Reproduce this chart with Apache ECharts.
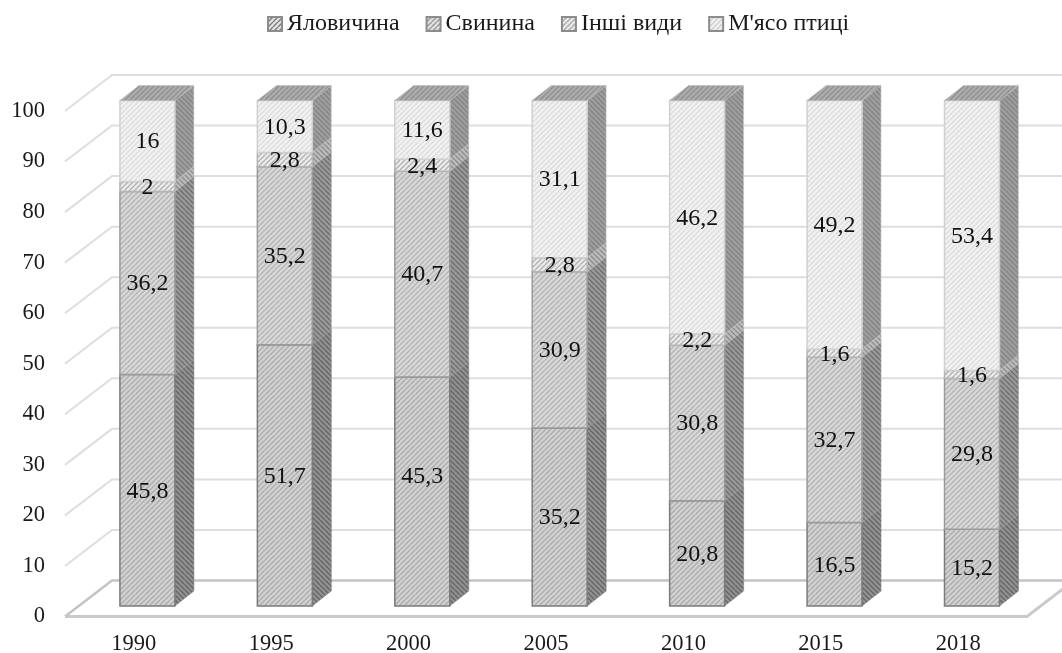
<!DOCTYPE html>
<html><head><meta charset="utf-8">
<style>html,body{margin:0;padding:0;background:#fff}#c{width:1062px;height:653px}</style>
<script src="https://cdn.jsdelivr.net/npm/echarts@6/dist/echarts.min.js"></script>
</head><body><div id="c"></div>
<script>
const categories = ['1990','1995','2000','2005','2010','2015','2018'];
const beef    = [45.8, 51.7, 45.3, 35.2, 20.8, 16.5, 15.2];
const pork    = [36.2, 35.2, 40.7, 30.9, 30.8, 32.7, 29.8];
const other   = [2, 2.8, 2.4, 2.8, 2.2, 1.6, 1.6];
const poultry = [16, 10.3, 11.6, 31.1, 46.2, 49.2, 53.4];
const seriesNames = ['Яловичина','Свинина','Інші види',"М'ясо птиці"];
const gridTicks = [0,10,20,30,40,50,60,70,80,90,100];

const FONT = '"Liberation Serif","Times New Roman",serif';
const WALL = [47,-36], BAR_FRONT = [13.7,-10.5], BAR_DEPTH = [19,-15];

function hatch(bg, fg, dir){
  const s = 5, c = document.createElement('canvas');
  c.width = c.height = s;
  const g = c.getContext('2d');
  g.fillStyle = bg; g.fillRect(0,0,s,s);
  g.strokeStyle = fg; g.lineWidth = 1.4;
  g.beginPath();
  for (let k=-s;k<=2*s;k+=s){
    if (dir>0){ g.moveTo(k,s); g.lineTo(k+s,0); } else { g.moveTo(k,0); g.lineTo(k+s,s); }
  }
  g.stroke();
  return {image:c, repeat:'repeat'};
}
const looks = [
  {front:hatch('#d2d2d2','#acacac',1), side:hatch('#929292','#646464',-1), top:hatch('#a8a8a8','#888888',1), line:'#7b7b7b', icon:hatch('#e4e4e4','#7a7a7a',1)},
  {front:hatch('#d8d8d8','#b4b4b4',1), side:hatch('#9a9a9a','#6e6e6e',-1), top:hatch('#b0b0b0','#909090',1), line:'#9a9a9a', icon:hatch('#e8e8e8','#8e8e8e',1)},
  {front:hatch('#ececec','#b0b0b0',1), side:hatch('#bcbcbc','#8c8c8c',-1), top:hatch('#c4c4c4','#a8a8a8',1), line:'#b4b4b4', icon:hatch('#ececec','#a8a8a8',1)},
  {front:hatch('#f2f2f2','#dcdcdc',1), side:hatch('#9e9e9e','#848484',-1), top:hatch('#adadad','#8f8f8f',1), line:'#d0d0d0', icon:hatch('#f2f2f2','#cccccc',1)}
];
const values = [beef,pork,other,poultry];
const labelShift = {'0-2':-16};

function fmt(v){ return String(v).replace('.',','); }
function stackBase(si,i){ let lo=0; for(let k=0;k<si;k++) lo+=values[k][i]; return lo; }

function wallItem(params, api){
  const v = api.value(0);
  const p = api.coord([0,v]);
  const x0 = params.coordSys.x, x1 = x0 + params.coordSys.width;
  const bx = x0 + WALL[0], by = p[1] + WALL[1];
  if (v === 0){
    return {type:'group', children:[
      {type:'polyline', shape:{points:[[x0,p[1]],[bx,by],[1062,by]]}, style:{stroke:'#c4c4c4',lineWidth:2.5,fill:null}},
      {type:'polyline', shape:{points:[[x0,p[1]],[x1,p[1]],[x1+WALL[0],by]]}, style:{stroke:'#cacaca',lineWidth:3,fill:null}}
    ]};
  }
  return {type:'polyline', shape:{points:[[x0,p[1]],[bx,by],[1062,by]]}, style:{stroke:'#dedede',lineWidth:2,fill:null}};
}

function barItem(si){
  return function(params, api){
    const i = api.value(0), lo = api.value(1), hi = api.value(2);
    const a = api.coord([i,lo]), b = api.coord([i,hi]);
    const w = api.size([1,0])[0]*0.4;
    const xL = a[0]+BAR_FRONT[0]-w/2, xR = xL+w;
    const yB = a[1]+BAR_FRONT[1], yT = b[1]+BAR_FRONT[1];
    const dx = BAR_DEPTH[0], dy = BAR_DEPTH[1];
    const L = looks[si];
    const kids = [
      {type:'polygon', shape:{points:[[xR,yB],[xR+dx,yB+dy],[xR+dx,yT+dy],[xR,yT]]}, style:{fill:L.side,stroke:L.line,lineWidth:.5}},
      {type:'rect', shape:{x:xL,y:yT,width:w,height:yB-yT}, style:{fill:L.front,stroke:L.line,lineWidth:1.5}}
    ];
    if (si===3) kids.push({type:'polygon', shape:{points:[[xL,yT],[xL+dx,yT+dy],[xR+dx,yT+dy],[xR,yT]]}, style:{fill:L.top,stroke:'#b8b8b8',lineWidth:.5}});
    return {type:'group', children:kids};
  };
}

function labelItem(params, api){
  const i = api.value(0), si = api.value(1), mid = api.value(2);
  const p = api.coord([i,mid]);
  return {type:'text', style:{
    text:fmt(values[si][i]),
    x:p[0]+BAR_FRONT[0], y:p[1]+BAR_FRONT[1]+1+(labelShift[si+'-'+i]||0),
    align:'center', verticalAlign:'middle', font:'24px '+FONT, fill:'#111'
  }};
}

const series = [{
  type:'custom', coordinateSystem:'cartesian2d', silent:true, z:1, clip:false,
  data:gridTicks.map(t=>[t]), encode:{y:0}, renderItem:wallItem
}];
const labelData = [];
seriesNames.forEach((name,si)=>{
  series.push({
    type:'custom', name, coordinateSystem:'cartesian2d', silent:true, z:2+si, clip:false,
    itemStyle:{color:looks[si].icon, borderColor:'#8c8c8c', borderWidth:1},
    data:categories.map((c,i)=>{
      const lo = stackBase(si,i);
      labelData.push([i, si, lo+values[si][i]/2]);
      return [i, lo, lo+values[si][i]];
    }),
    encode:{x:0,y:[1,2]}, renderItem:barItem(si)
  });
});
series.push({
  type:'custom', coordinateSystem:'cartesian2d', silent:true, z:10, clip:false,
  data:labelData, encode:{x:0,y:2}, renderItem:labelItem
});

const chart = echarts.init(document.getElementById('c'),null,{renderer:'canvas'});
chart.setOption({
  animation:false, backgroundColor:'#fff',
  legend:{
    data:seriesNames, top:7, left:262, itemWidth:14, itemHeight:14, itemGap:26, icon:'rect',
    textStyle:{fontFamily:FONT,fontSize:24,color:'#1a1a1a'}
  },
  grid:{left:65,right:35,top:111,bottom:36.5,outerBoundsMode:'none'},
  xAxis:{type:'category',data:categories,axisLine:{show:false},axisTick:{show:false},splitLine:{show:false},
    axisLabel:{fontFamily:FONT,fontSize:22.5,color:'#1a1a1a',margin:16}},
  yAxis:{type:'value',min:0,max:100,interval:10,axisLine:{show:false},axisTick:{show:false},splitLine:{show:false},
    axisLabel:{fontFamily:FONT,fontSize:22.5,color:'#1a1a1a',margin:20,padding:[4,0,0,0]}},
  series
});
</script></body></html>
